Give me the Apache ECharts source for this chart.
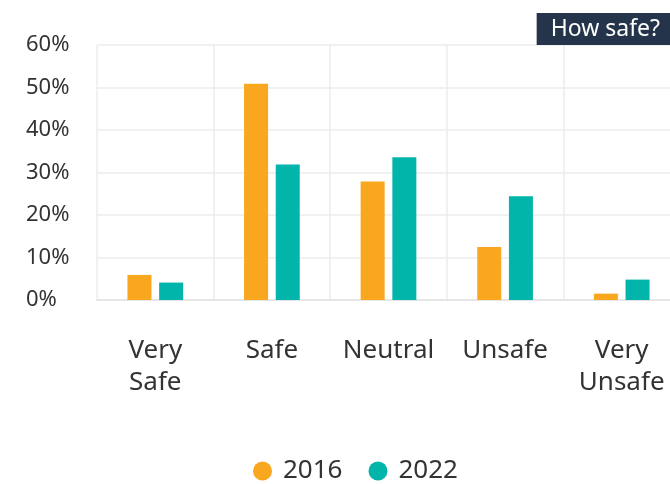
<!DOCTYPE html>
<html><head><meta charset="utf-8">
<script src="https://cdn.jsdelivr.net/npm/echarts@6/dist/echarts.min.js"></script>
<style>html,body{margin:0;padding:0;background:#fff}#c{width:670px;height:484px}</style>
</head><body><div id="c"></div>
<script>
const categories = ['Very\nSafe', 'Safe', 'Neutral', 'Unsafe', 'Very\nUnsafe'];
const series2016 = [5.9, 50.9, 27.9, 12.5, 1.5];
const series2022 = [4.1, 31.9, 33.6, 24.4, 4.8];
const seriesNames = ['2016', '2022'];
const yTicks = [0, 10, 20, 30, 40, 50, 60];
const titleText = 'How safe?';

const FONT = '"Noto Sans", sans-serif';
const chart = echarts.init(document.getElementById('c'), null, {renderer: 'canvas'});
chart.setOption({
  animation: false,
  textStyle: {fontFamily: FONT},
  title: {
    text: titleText, right: 0, top: 13,
    backgroundColor: '#24344a', padding: [3, 10, 3, 14],
    textStyle: {color: '#fff', fontSize: 23, fontWeight: 'normal', fontFamily: FONT, lineHeight: 26}
  },
  legend: {
    data: seriesNames, left: 248, top: 453, icon: 'circle',
    itemWidth: 19, itemHeight: 19, itemGap: 26,
    textStyle: {fontSize: 26, color: '#333', fontFamily: FONT, padding: [0, 0, 0, 6]}
  },
  grid: {left: 97, width: 583, top: 45, height: 255, containLabel: false, outerBoundsMode: 'none'},
  xAxis: {
    type: 'category', data: categories,
    axisLine: {show: true, lineStyle: {color: '#e6e6e6', width: 2}},
    axisTick: {show: false},
    splitLine: {show: true, lineStyle: {color: '#ececec', width: 1.5}},
    axisLabel: {fontSize: 26, color: '#333', margin: 35, lineHeight: 32, fontFamily: FONT, interval: 0, hideOverlap: false}
  },
  yAxis: {
    type: 'value', min: yTicks[0], max: yTicks[yTicks.length - 1], interval: 10,
    axisLine: {show: false}, axisTick: {show: false},
    splitLine: {lineStyle: {color: '#ececec', width: 1.5}},
    axisLabel: {formatter: v => v + '%', fontSize: 22, color: '#333', align: 'left', margin: 71, fontFamily: FONT}
  },
  series: [
    {name: seriesNames[0], type: 'bar', data: series2016, barWidth: 24, barGap: '32%', itemStyle: {color: '#f8a71f'}},
    {name: seriesNames[1], type: 'bar', data: series2022, barWidth: 24, barGap: '32%', itemStyle: {color: '#01b5ab'}}
  ]
});
</script></body></html>
